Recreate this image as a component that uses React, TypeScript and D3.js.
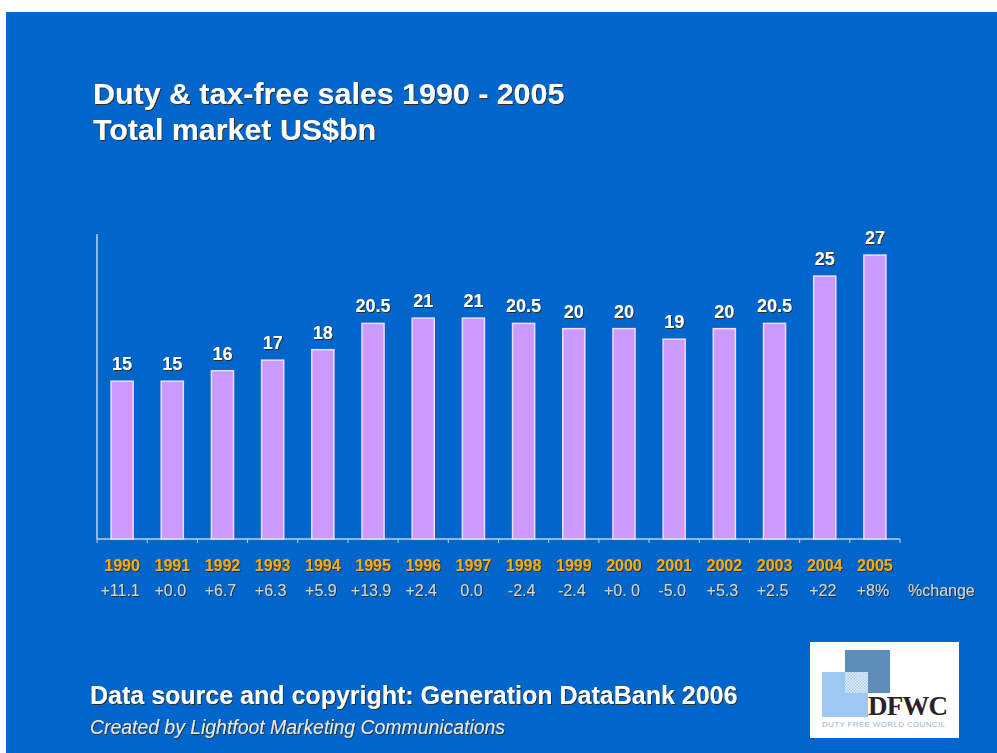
import React from "react";
import * as d3 from "d3";

const years = ["1990","1991","1992","1993","1994","1995","1996","1997","1998","1999","2000","2001","2002","2003","2004","2005"];
const sales = [15, 15, 16, 17, 18, 20.5, 21, 21, 20.5, 20, 20, 19, 20, 20.5, 25, 27];
const changes = ["+11.1","+0.0","+6.7","+6.3","+5.9","+13.9","+2.4","0.0","-2.4","-2.4","+0. 0","-5.0","+5.3","+2.5","+22","+8%"];
const valueLabels = ["15","15","16","17","18","20.5","21","21","20.5","20","20","19","20","20.5","25","27"];
const titleLines = ["Duty & tax-free sales 1990 - 2005", "Total market US$bn"];
const sourceText = "Data source and copyright: Generation DataBank 2006";
const creditText = "Created by Lightfoot Marketing Communications";
const changeLabel = "%change";

const W = 997, H = 753;
const FONT = "'Liberation Sans', Arial, sans-serif";

export default function App() {
  const x = d3.scaleBand<string>().domain(years).range([97, 900]).paddingInner(0.56).paddingOuter(0.28);
  const y = d3.scaleLinear().domain([0, 29]).range([539, 234]);
  const step = x.step();
  const bw = x.bandwidth();
  const boundaries = years.map((yr) => (x(yr) as number) - (step - bw) / 2).concat([900]);
  const axisColor = "#B8D4F4";

  return (
    <div style={{ position: "absolute", left: 0, top: 0 }}>
      <svg width={W} height={H} style={{ display: "block" }}>
        <defs>
          <filter id="sh" x="-10%" y="-30%" width="120%" height="160%">
            <feDropShadow dx="1" dy="1" stdDeviation="0.6" floodColor="#3a2408" floodOpacity="0.9" />
          </filter>
          <filter id="sh2" x="-10%" y="-30%" width="120%" height="160%">
            <feDropShadow dx="0.8" dy="0.8" stdDeviation="0.4" floodColor="#2a1a00" floodOpacity="0.9" />
          </filter>
          <pattern id="chk" width="3" height="3" patternUnits="userSpaceOnUse">
            <rect width="3" height="3" fill="#a9cdf0" />
            <rect width="1.5" height="1.5" fill="#e6f0fa" />
            <rect x="1.5" y="1.5" width="1.5" height="1.5" fill="#e6f0fa" />
          </pattern>
        </defs>
        <rect x={0} y={0} width={W} height={H} fill="#ffffff" />
        <rect x={6} y={12} width={W - 6} height={H - 12} fill="#0066CC" />

        {titleLines.map((t, i) => (
          <text key={t} x={93} y={104 + i * 36} fontFamily={FONT} fontWeight="bold" fontSize={30.4} fill="#ffffff" filter="url(#sh)">{t}</text>
        ))}

        {/* axes */}
        <line x1={97} x2={97} y1={y(0)} y2={y(29)} stroke={axisColor} strokeWidth={1.5} />
        <line x1={97} x2={900} y1={y(0)} y2={y(0)} stroke={axisColor} strokeWidth={1.5} />
        {boundaries.map((bx, i) => (
          <line key={i} x1={bx} x2={bx} y1={y(0)} y2={y(0) + 4} stroke={axisColor} strokeWidth={1} />
        ))}

        {/* bars */}
        {years.map((yr, i) => (
          <rect key={yr} x={x(yr)} y={y(sales[i])} width={bw} height={y(0) - y(sales[i])}
            fill="#CC99FF" stroke="#EEDDFF" strokeWidth={1.5} />
        ))}

        {/* value labels */}
        {years.map((yr, i) => (
          <text key={"v" + yr} x={(x(yr) as number) + bw / 2} y={y(sales[i]) - 11} textAnchor="middle"
            fontFamily={FONT} fontWeight="bold" fontSize={18} fill="#ffffff" filter="url(#sh)">{valueLabels[i]}</text>
        ))}

        {/* year labels */}
        {years.map((yr) => (
          <text key={"y" + yr} x={(x(yr) as number) + bw / 2} y={571} textAnchor="middle"
            fontFamily={FONT} fontWeight="bold" fontSize={16} fill="#FFAA00" filter="url(#sh2)">{yr}</text>
        ))}

        {/* change labels */}
        {years.map((yr, i) => (
          <text key={"c" + yr} x={(x(yr) as number) + bw / 2 - 2} y={596} textAnchor="middle"
            fontFamily={FONT} fontSize={16} fill="#D4D4D4" filter="url(#sh2)">{changes[i]}</text>
        ))}
        <text x={908} y={596} fontFamily={FONT} fontSize={16} fill="#D4D4D4" filter="url(#sh2)">{changeLabel}</text>

        {/* footer */}
        <text x={90} y={704} fontFamily={FONT} fontWeight="bold" fontSize={25} fill="#ffffff" filter="url(#sh)">{sourceText}</text>
        <text x={90} y={734} fontFamily={FONT} fontStyle="italic" fontSize={19.4} fill="#e8e8e8" filter="url(#sh2)">{creditText}</text>

        {/* logo */}
        <g>
          <rect x={810} y={642} width={149} height={96} fill="#ffffff" />
          <rect x={845} y={650} width={45} height={43} fill="#5F8DBA" />
          <rect x={822} y={672} width={46} height={45} fill="#9CC8F2" />
          <rect x={845} y={672} width={23} height={21} fill="url(#chk)" />
          <text x={868} y={715} fontFamily="'Liberation Serif', 'Times New Roman', serif" fontWeight="bold" fontSize={27} fill="#2a2228" textLength={80}>DFWC</text>
          <text x={822} y={727} fontFamily={FONT} fontSize={8} fill="#9ab4d0" textLength={123}>DUTY FREE WORLD COUNCIL</text>
        </g>
      </svg>
    </div>
  );
}
